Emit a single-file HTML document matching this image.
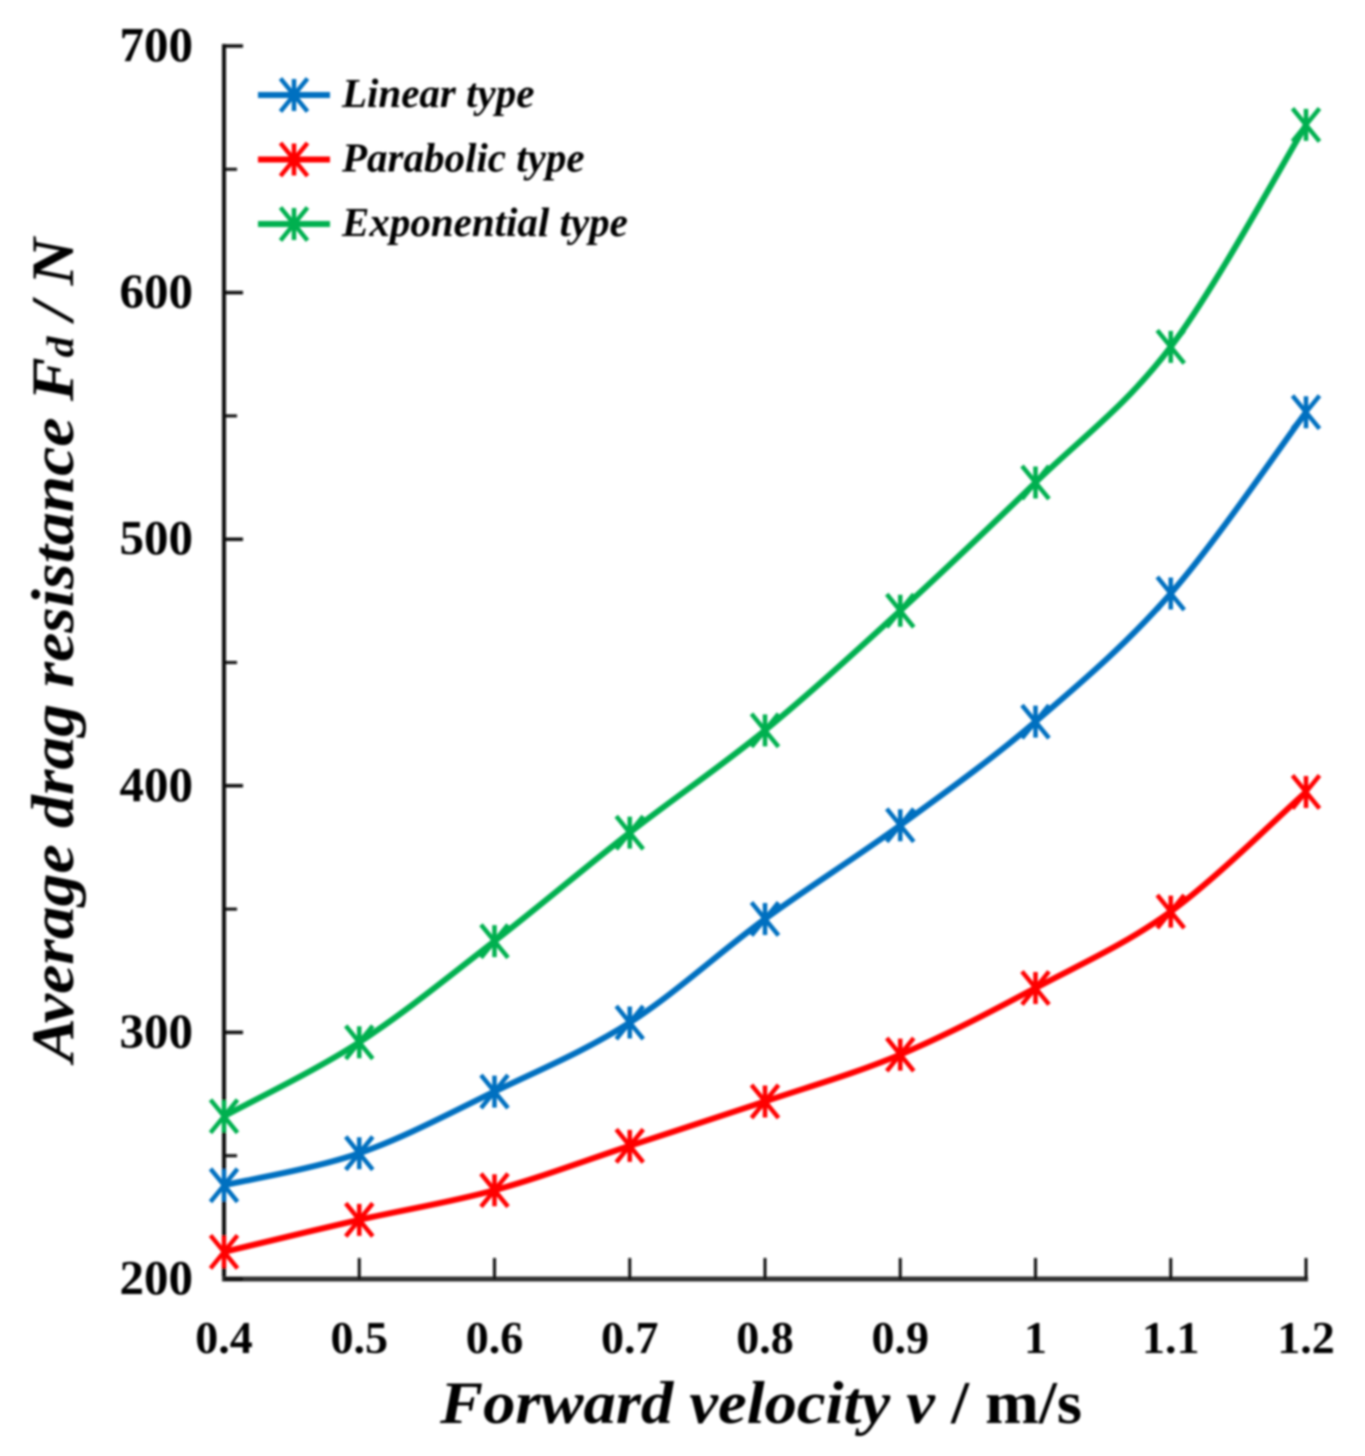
<!DOCTYPE html>
<html lang="en">
<head>
<meta charset="utf-8">
<title>Average drag resistance vs forward velocity</title>
<style>
html,body{margin:0;padding:0;background:#fff;}
svg{display:block;font-family:"Liberation Serif",serif;font-weight:bold;fill:#000;}
</style>
</head>
<body>
<svg id="chart" xmlns="http://www.w3.org/2000/svg" width="1365" height="1456" viewBox="0 0 1365 1456">
  <defs><filter id="soft" x="-5%" y="-5%" width="110%" height="110%"><feGaussianBlur stdDeviation="1"/></filter></defs>
  <g id="root" filter="url(#soft)">
    <g id="axes"></g>
    <g id="series"></g>
    <g id="legend"></g>
    <text transform="translate(73,1062) rotate(-90)" font-size="60" font-style="italic" textLength="824" lengthAdjust="spacingAndGlyphs">Average drag resistance F<tspan font-size="38" dy="0">d</tspan> / N</text>
    <text x="440" y="1423" font-size="60" textLength="642" lengthAdjust="spacingAndGlyphs"><tspan font-style="italic">Forward velocity v</tspan> / m/s</text>
  </g>
</svg>
<script>
const categories = [0.4, 0.5, 0.6, 0.7, 0.8, 0.9, 1.0, 1.1, 1.2];
const xTickLabels = ['0.4', '0.5', '0.6', '0.7', '0.8', '0.9', '1', '1.1', '1.2'];
const yMajorTicks = [200, 300, 400, 500, 600, 700];
const yMinorTicks = [250, 350, 450, 550, 650];
const linearValues = [238, 251, 276, 304, 346, 384, 426, 478, 551.5];
const parabolicValues = [211, 224, 236, 254, 272, 291, 318, 349, 397.5];
const exponentialValues = [266, 296, 337, 381, 422.5, 471, 523, 578, 668];
const seriesNames = ['Linear type', 'Parabolic type', 'Exponential type'];

const NS = 'http://www.w3.org/2000/svg';
const xScale = v => 224 + (v - 0.4) / 0.8 * 1082;
const yScale = v => 1279 - (v - 200) / 500 * 1233;

function make(parent, tag, attrs, text) {
  const el = document.createElementNS(NS, tag);
  for (const k in attrs) el.setAttribute(k, attrs[k]);
  if (text !== undefined) el.textContent = text;
  parent.appendChild(el);
  return el;
}

function star(parent, cx, cy, color) {
  const g = make(parent, 'g', { stroke: color, 'stroke-width': 4.5, 'stroke-linecap': 'butt', fill: 'none' });
  
  
  const dx = 13.5, dy = 16.5;
  make(g, 'path', {
    d: `M${cx - dx} ${cy - dy}L${cx + dx} ${cy + dy}M${cx + dx} ${cy - dy}L${cx - dx} ${cy + dy}M${cx} ${cy - 16}L${cx} ${cy + 16}`
  });
  return g;
}

function smoothPath(pts) {
  let d = `M${pts[0][0]} ${pts[0][1]}`;
  for (let i = 0; i < pts.length - 1; i++) {
    const p0 = pts[Math.max(i - 1, 0)], p1 = pts[i], p2 = pts[i + 1], p3 = pts[Math.min(i + 2, pts.length - 1)];
    const c1x = p1[0] + (p2[0] - p0[0]) / 6, c1y = p1[1] + (p2[1] - p0[1]) / 6;
    const c2x = p2[0] - (p3[0] - p1[0]) / 6, c2y = p2[1] - (p3[1] - p1[1]) / 6;
    d += `C${c1x} ${c1y} ${c2x} ${c2y} ${p2[0]} ${p2[1]}`;
  }
  return d;
}

const axes = document.getElementById('axes');
const yAxisLine = make(axes, 'line', { x1: 224, y1: yScale(700) - 2, x2: 224, y2: yScale(200) + 2, stroke: '#111', 'stroke-width': 4 });


const xAxisLine = make(axes, 'line', { x1: 222, y1: yScale(200), x2: xScale(1.2) + 2, y2: yScale(200), stroke: '#333', 'stroke-width': 5 });



yMajorTicks.forEach(v => {
  const tick = make(axes, 'line', { x1: 224, y1: yScale(v), x2: 243, y2: yScale(v), stroke: '#111', 'stroke-width': 3.5 });
  
  
  const label = make(axes, 'text', { x: 193, y: yScale(v) + 15, 'text-anchor': 'end', 'font-size': 49 }, String(v));
  
  
});
yMinorTicks.forEach(v => {
  const tick = make(axes, 'line', { x1: 224, y1: yScale(v), x2: 237, y2: yScale(v), stroke: '#111', 'stroke-width': 3 });
  
  
});
categories.forEach((c, i) => {
  if (i > 0) {
    const tick = make(axes, 'line', { x1: xScale(c), y1: yScale(200), x2: xScale(c), y2: 1258, stroke: '#111', 'stroke-width': 3 });
    
    
  }
  const label = make(axes, 'text', { x: xScale(c), y: 1353, 'text-anchor': 'middle', 'font-size': 46 }, xTickLabels[i]);
  
  
});

const seriesGroup = document.getElementById('series');
const seriesColors = ['#0070c0', '#ff0000', '#00b050'];
[linearValues, parabolicValues, exponentialValues].forEach((vals, si) => {
  const g = make(seriesGroup, 'g', {});
  
  
  const pts = vals.map((v, i) => [xScale(categories[i]), yScale(v)]);
  const line = make(g, 'path', { d: smoothPath(pts), fill: 'none', stroke: seriesColors[si], 'stroke-width': 6 });
  
  
  pts.forEach(p => star(g, p[0], p[1], seriesColors[si]));
});

const legend = document.getElementById('legend');
seriesNames.forEach((name, i) => {
  const y = 95 + i * 64.5;
  const g = make(legend, 'g', {});
  
  
  const key = make(g, 'line', { x1: 258, y1: y, x2: 330, y2: y, stroke: seriesColors[i], 'stroke-width': 6 });
  
  
  star(g, 294, y, seriesColors[i]);
  const label = make(g, 'text', { x: 342, y: y + 12, 'font-size': 41, 'font-style': 'italic' }, name);
  
  
});
</script>
</body>
</html>
